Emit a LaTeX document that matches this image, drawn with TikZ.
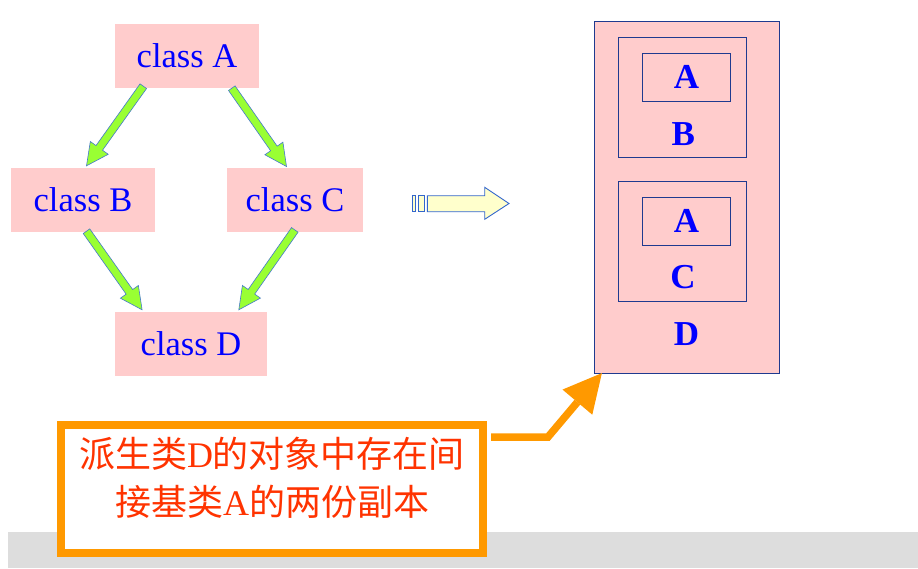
\documentclass[tikz,border=0pt]{standalone}
\usepackage{fontspec}
\setmainfont{Liberation Serif}
\newfontfamily\cjk{Noto Sans CJK SC}
\usetikzlibrary{calc,arrows.meta}
\definecolor{boxpink}{HTML}{FFCCCC}
\definecolor{arrgreen}{HTML}{99FF33}
\definecolor{arredge}{HTML}{4477CC}
\definecolor{frameblue}{HTML}{1F3A8F}
\definecolor{noteorange}{HTML}{FF9900}
\definecolor{notered}{HTML}{FF3300}
\definecolor{pale}{HTML}{FFFFCC}
\definecolor{paleedge}{HTML}{3366CC}
\definecolor{bandgray}{HTML}{DDDDDD}
\tikzset{
	cls/.style={fill=boxpink,text=blue,minimum height=64pt,inner sep=0pt,font=\fontsize{34.5}{40}\selectfont},
	part/.style={draw=frameblue,fill=boxpink,line width=0.8pt,inner sep=0pt},
	letter/.style={text=blue,inner sep=0pt,font=\fontsize{35}{40}\selectfont\bfseries},
	fatarr/.style={fill=arrgreen,draw=arredge,line width=0.6pt,line join=miter},
	yarr/.style={fill=pale,draw=paleedge,line width=0.9pt,line join=miter},
	notebox/.style={draw=noteorange,fill=white,line width=8pt,minimum width=422pt,minimum height=127.7pt},
	notetext/.style={text=notered,align=center,inner sep=0pt,font=\fontsize{36}{48}\selectfont},
	notearrow/.style={draw=noteorange,line width=7.5pt,line join=miter,-{Triangle[length=38pt,width=39pt,line width=0pt]}},
}
\newcommand\fatarrow[2]{%
	\coordinate (fa1) at #1;
	\coordinate (fa2) at #2;
	\coordinate (fah) at ($(fa2)!22pt!(fa1)$);
	\filldraw[fatarr] ($(fa1)!4pt!90:(fa2)$) -- ($(fah)!4pt!90:(fa2)$) -- ($(fah)!11pt!90:(fa2)$) -- (fa2)
		-- ($(fah)!11pt!-90:(fa2)$) -- ($(fah)!4pt!-90:(fa2)$) -- ($(fa1)!4pt!-90:(fa2)$) -- cycle;
}
\begin{document}
\begin{tikzpicture}[x=1pt,y=-1pt]
	\useasboundingbox (0,0) rectangle (918,568);
	\fill[bandgray] (8,532) rectangle (918,568);
	\node[cls,minimum width=144pt] (cA) at (187,56) {class A};
	\node[cls,minimum width=144pt] (cB) at (83,200) {class B};
	\node[cls,minimum width=136pt] (cC) at (295,200) {class C};
	\node[cls,minimum width=152pt] (cD) at (191,344) {class D};
	\fatarrow{([xshift=28.5pt,yshift=2pt]cA.south west)}{([xshift=75.7pt,yshift=2pt]cB.north west)}
	\fatarrow{([xshift=117pt]cA.south west)}{([xshift=59.7pt,yshift=1.3pt]cC.north west)}
	\fatarrow{([xshift=75.7pt,yshift=1pt]cB.south west)}{([xshift=27.3pt,yshift=2pt]cD.north west)}
	\fatarrow{([xshift=68pt,yshift=2.3pt]cC.south west)}{([xshift=124pt,yshift=2pt]cD.north west)}
	\filldraw[yarr] (427.3,195.7) -- (484.7,195.7) -- (484.7,187.3) -- (509,203.5) -- (484.7,219.3) -- (484.7,211.7) -- (427.3,211.7) -- cycle;
	\filldraw[yarr] (412.3,195.7) rectangle (415.3,211.7);
	\filldraw[yarr] (418.3,195.7) rectangle (424.7,211.7);
	\node[part,minimum width=185pt,minimum height=351.6pt] (objD) at (686.5,197.5) {};
	\node[part,minimum width=128.4pt,minimum height=119.8pt] (subB) at (682.5,97.4) {};
	\node[part,letter,minimum width=88.4pt,minimum height=47.8pt] (baseA1) at (686.5,77.4) {A};
	\node[letter] (lblB) at (683.3,134.2) {B};
	\node[part,minimum width=128.4pt,minimum height=120.4pt] (subC) at (682.5,241.5) {};
	\node[part,letter,minimum width=88.4pt,minimum height=48pt] (baseA2) at (686.5,221.3) {A};
	\node[letter] (lblC) at (683,277.5) {C};
	\node[letter] (lblD) at (686.5,334.5) {D};
	\node[notebox] (note) at (272,488.8) {};
	\node[notetext] (notetxt) at ([yshift=10.8pt]note.center) {{\cjk 派生类}D{\cjk 的对象中存在间}\\{\cjk 接基类}A{\cjk 的两份副本}};
	\coordinate (tipD) at ([xshift=8.3pt,yshift=0.6pt]objD.south west);
	\draw[notearrow] ([xshift=4pt,yshift=51.8pt]note.east) -- ++(57,0) -- (tipD);
\end{tikzpicture}
\end{document}
